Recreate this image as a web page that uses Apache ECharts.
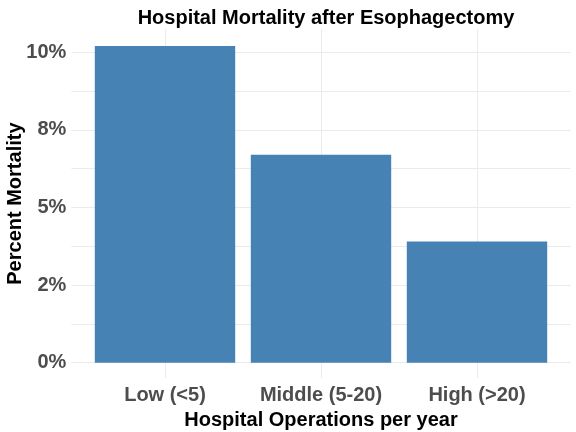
<!DOCTYPE html>
<html>
<head>
<meta charset="utf-8">
<script src="https://cdn.jsdelivr.net/npm/echarts@6/dist/echarts.min.js"></script>
<style>
  html, body { margin: 0; padding: 0; background: #fff; }
  #main { width: 576px; height: 432px; }
</style>
</head>
<body>
<div id="main"></div>
<script>
// 数据
var categories = ['Low (<5)', 'Middle (5-20)', 'High (>20)'];
var mortality = [10.2, 6.7, 3.9];
var yTickValues = [0, 2.5, 5, 7.5, 10];
var yTickLabels = ['0%', '2%', '5%', '8%', '10%'];

var font = "'Liberation Sans', Arial, sans-serif";
var grey = 'rgba(0,0,0,0)';

var myChart = echarts.init(document.getElementById('main'));

var option = {
  backgroundColor: '#fff',
  animation: false,
  title: {
    text: 'Hospital Mortality after Esophagectomy',
    left: 321,
    top: 3,
    textAlign: 'center',
    textStyle: { fontFamily: font, fontSize: 20, fontWeight: 'bold', color: '#000' }
  },
  grid: { left: 71.4, right: 5.4, top: 29, bottom: 53.8, containLabel: false, outerBoundsMode: 'none' },
  xAxis: {
    type: 'value',
    min: -0.6,
    max: 2.6,
    interval: 0.2,
    name: 'Hospital Operations per year',
    nameLocation: 'middle',
    nameGap: 30,
    nameTextStyle: { fontFamily: font, fontSize: 20, fontWeight: 'bold', color: '#000' },
    axisLine: { show: false },
    axisTick: { show: false },
    axisLabel: {
      margin: 7,
      fontFamily: font, fontSize: 20, fontWeight: 'bold', color: '#4d4d4d',
      formatter: function (v) {
        var k = Math.round(v);
        if (Math.abs(v - k) < 1e-6 && k >= 0 && k < categories.length) return categories[k];
        return '';
      }
    },
    splitLine: {
      show: true,
      // 只在类别中心画竖线
      lineStyle: { color: [grey, grey, grey, '#ebebeb', grey], width: 1 }
    }
  },
  yAxis: {
    type: 'value',
    min: -0.5,
    max: 10.75,
    interval: 0.25,
    name: 'Percent Mortality',
    nameLocation: 'middle',
    nameGap: 46,
    nameMoveOverlap: false,
    nameTextStyle: { fontFamily: font, fontSize: 20, fontWeight: 'bold', color: '#000' },
    axisLine: { show: false },
    axisTick: { show: false },
    axisLabel: {
      margin: 5,
      padding: [4, 0, 0, 0],
      fontFamily: font, fontSize: 20, fontWeight: 'bold', color: '#4d4d4d',
      formatter: function (v) {
        for (var i = 0; i < yTickValues.length; i++) {
          if (Math.abs(v - yTickValues[i]) < 1e-6) return yTickLabels[i];
        }
        return '';
      }
    },
    splitLine: {
      show: true,
      // 每 1.25% 一条网格线
      lineStyle: { color: [grey, grey, '#ebebeb', grey, grey], width: 1 }
    }
  },
  series: [{
    type: 'bar',
    barWidth: 140.4,
    itemStyle: { color: '#4682b4' },
    data: categories.map(function (c, i) { return [i, mortality[i]]; })
  }]
};

myChart.setOption(option);
</script>
</body>
</html>
